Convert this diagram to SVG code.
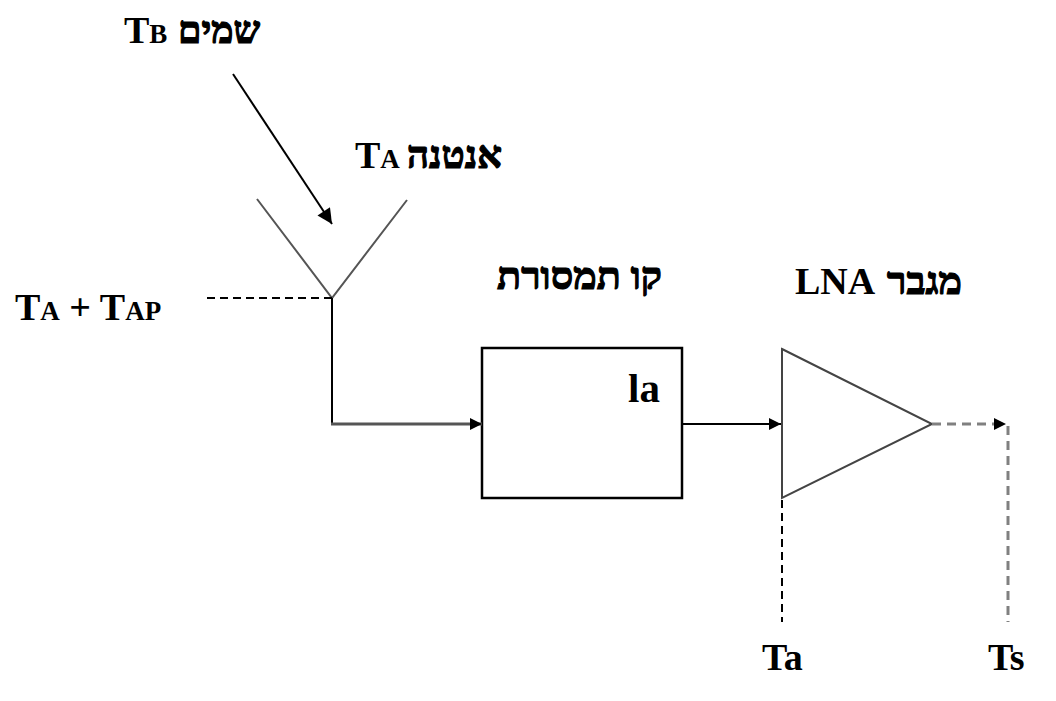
<svg xmlns="http://www.w3.org/2000/svg" width="1056" height="701" viewBox="0 0 1056 701">
<style>
text{font-family:"Liberation Serif","Times New Roman",serif;font-weight:bold;fill:#000}
.lbl{font-size:38px}
.sc{font-size:27px}
.heb{font-size:38px;stroke:#000;stroke-width:1.2;font-family:"Liberation Serif","DejaVu Serif",serif}
.ln{fill:none;stroke:#000;stroke-width:2}
.gray{fill:none;stroke:#555;stroke-width:2}
.dash{fill:none;stroke:#000;stroke-width:2;stroke-dasharray:8,5}
.dashg{fill:none;stroke:#808080;stroke-width:3;stroke-dasharray:9,6}
</style>
<defs>
<marker id="ah" viewBox="0 0 10 10" refX="10" refY="5" markerWidth="16" markerHeight="12" markerUnits="userSpaceOnUse" orient="auto">
<path d="M0,0 L10,5 L0,10 z" fill="#000"/>
</marker>
<marker id="ahL" viewBox="0 0 10 10" refX="10" refY="5" markerWidth="20" markerHeight="15" markerUnits="userSpaceOnUse" orient="auto">
<path d="M0,0 L10,5 L0,10 z" fill="#000"/>
</marker>
</defs>
<rect width="1056" height="701" fill="#fff"/>

<g id="sky">
<text class="lbl" x="124" y="43">T<tspan class="sc">B</tspan></text>
<text class="heb" x="178" y="43" textLength="82" lengthAdjust="spacingAndGlyphs">שמים</text>
</g>

<g id="antenna">
<polyline class="gray" points="257,199 332,298 407,200"/>
<text class="lbl" x="355" y="168">T<tspan class="sc">A</tspan></text>
<text class="heb" x="407" y="168" textLength="95" lengthAdjust="spacingAndGlyphs">אנטנה</text>
</g>

<g id="antenna-temp">
<text class="lbl" x="15" y="320">T<tspan class="sc">A</tspan> + T<tspan class="sc">AP</tspan></text>
</g>

<g id="line">
<rect x="482" y="348" width="200" height="150" fill="#fff" stroke="#000" stroke-width="2.5"/>
<text x="628" y="402" font-size="41">la</text>
<text class="heb" x="497" y="289" textLength="165" lengthAdjust="spacingAndGlyphs">קו תמסורת</text>
</g>

<g id="lna">
<polygon points="782,349 932,424 782,498" fill="#fff" stroke="#444" stroke-width="2"/>
<text class="lbl" x="795" y="294">LNA</text>
<text class="heb" x="887" y="294" textLength="75" lengthAdjust="spacingAndGlyphs">מגבר</text>
</g>

<g id="ta">
<text class="lbl" x="762" y="670">Ta</text>
</g>
<g id="ts">
<text class="lbl" x="988" y="670">Ts</text>
</g>

<g id="connectors">
<line class="ln" x1="233" y1="74" x2="332" y2="224" marker-end="url(#ahL)"/>
<line class="dash" x1="207" y1="298" x2="332" y2="298"/>
<line class="ln" x1="332" y1="298" x2="332" y2="424"/>
<line x1="331" y1="424" x2="482" y2="424" stroke="#555" stroke-width="3" marker-end="url(#ah)"/>
<line class="ln" x1="683" y1="424" x2="781" y2="424" marker-end="url(#ah)"/>
<line class="dashg" x1="932" y1="424" x2="1006" y2="424" marker-end="url(#ah)"/>
<line class="dashg" x1="1008" y1="426" x2="1008" y2="622"/>
<line class="dash" x1="782" y1="500" x2="782" y2="622"/>
</g>
</svg>
